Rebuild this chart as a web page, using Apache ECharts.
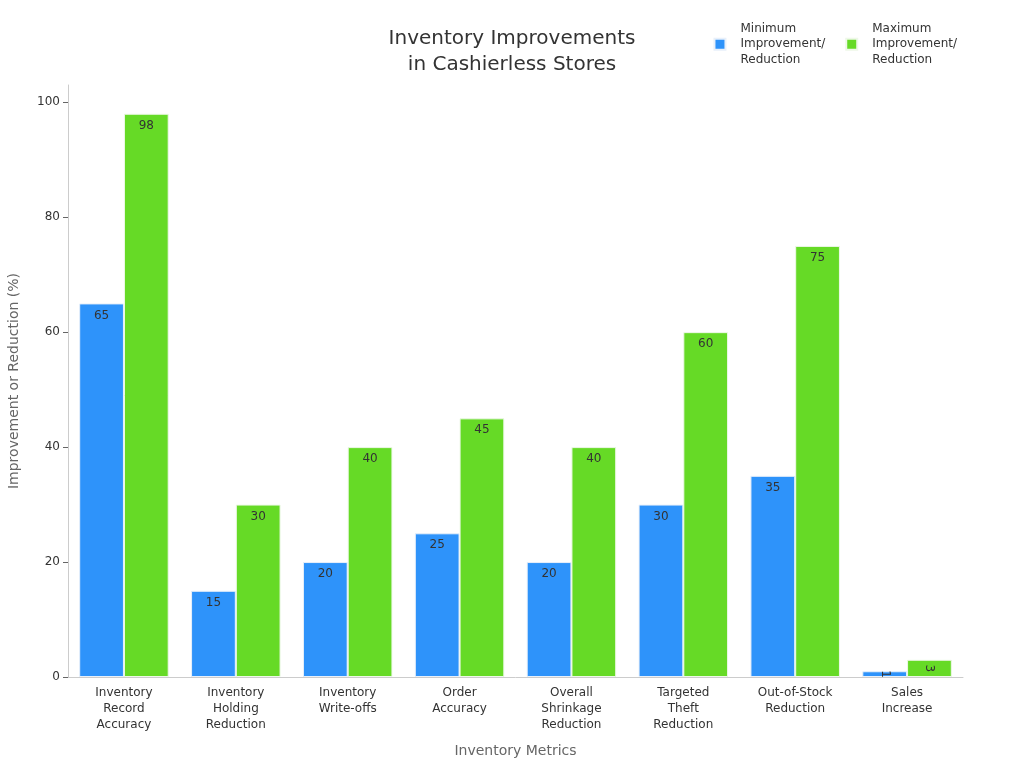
<!DOCTYPE html>
<html><head><meta charset="utf-8">
<script src="https://cdn.jsdelivr.net/npm/echarts@6/dist/echarts.min.js"></script>
<style>html,body{margin:0;padding:0;background:#fff}#c{width:1024px;height:768px}</style>
</head><body><div id="c"></div>
<script>
const categories = ["Inventory\nRecord\nAccuracy","Inventory\nHolding\nReduction","Inventory\nWrite-offs","Order\nAccuracy","Overall\nShrinkage\nReduction","Targeted\nTheft\nReduction","Out-of-Stock\nReduction","Sales\nIncrease"];
const minValues = [65,15,20,25,20,30,35,1];
const maxValues = [98,30,40,45,40,60,75,3];
const seriesNames = ["Minimum\nImprovement/\nReduction","Maximum\nImprovement/\nReduction"];
const colors = ["#2E93FA","#66DA26"];

function toData(arr){
  return arr.map(v => v < 5 ? {value:v, label:{rotate:-90, position:'inside'}} : v);
}
const chart = echarts.init(document.getElementById('c'));
const font = 'DejaVu Sans';
chart.setOption({
  textStyle:{fontFamily:font},
  title:{text:"Inventory Improvements\nin Cashierless Stores", left:507, textAlign:'center', top:21,
    textStyle:{fontSize:20, fontWeight:'normal', color:'#333', lineHeight:26, fontFamily:font}},
  legend:{right:62, top:16, itemWidth:11, itemHeight:11, itemGap:20, icon:'rect',
    textStyle:{fontSize:12, color:'#333', lineHeight:15.5, fontFamily:font, padding:[0,0,0,10]},
    data:seriesNames},
  grid:{left:68, right:61, top:85, bottom:91, outerBoundsMode:'none', containLabel:false},
  xAxis:{type:'category', data:categories, name:'Inventory Metrics', nameLocation:'middle', nameGap:67,
    nameTextStyle:{fontSize:14, color:'#666', fontFamily:font},
    axisLine:{lineStyle:{color:'#ccc'}}, axisTick:{alignWithLabel:true, lineStyle:{color:'#666'}},
    axisLabel:{fontSize:12, color:'#333', lineHeight:16, interval:0, fontFamily:font}},
  yAxis:{type:'value', min:0, max:103, interval:20, name:'Improvement or Reduction (%)', nameLocation:'middle', nameGap:47,
    nameTextStyle:{fontSize:14, color:'#666', fontFamily:font},
    axisLine:{show:true, lineStyle:{color:'#ccc'}}, axisTick:{show:true, lineStyle:{color:'#666'}},
    splitLine:{show:false},
    axisLabel:{fontSize:12, color:'#333', showMaxLabel:false, fontFamily:font}},
  series:[
    {name:seriesNames[0], type:'bar', data:toData(minValues), barGap:'0%', barCategoryGap:'20%',
     itemStyle:{color:colors[0], borderColor:'#e8f0fa', borderWidth:1},
     label:{show:true, position:'insideTop', distance:6, fontSize:12, color:'#333', fontFamily:font}},
    {name:seriesNames[1], type:'bar', data:toData(maxValues),
     itemStyle:{color:colors[1], borderColor:'#eef8e8', borderWidth:1},
     label:{show:true, position:'insideTop', distance:6, fontSize:12, color:'#333', fontFamily:font}}
  ]
});
</script></body></html>
